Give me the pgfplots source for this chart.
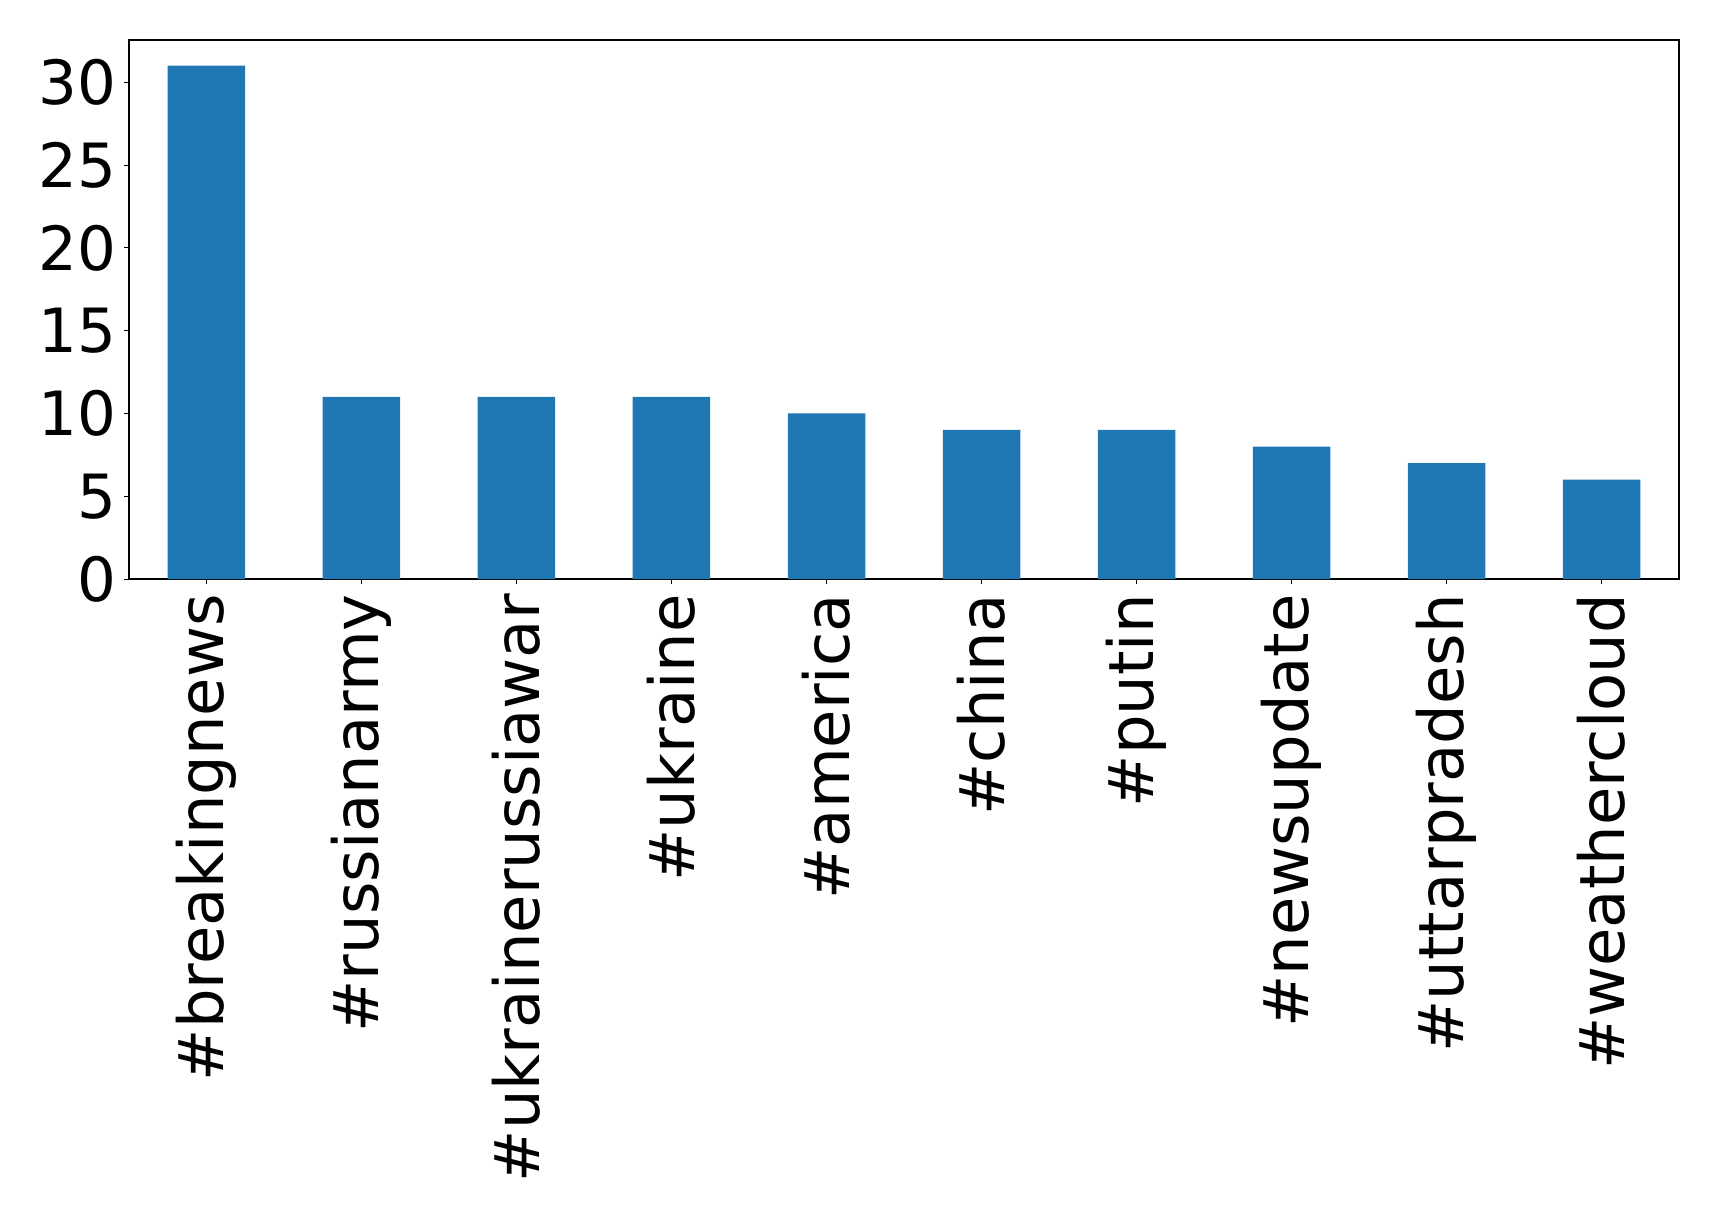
\documentclass[border=0pt]{standalone}
\usepackage{pgfplots}
\pgfplotsset{compat=1.18}
\usepackage{fontspec}
\setmainfont{DejaVu Sans}
\definecolor{mplblue}{HTML}{1F77B4}
\begin{document}
\begin{tikzpicture}
\begin{axis}[
  at={(0,0)}, anchor=south west,
  scale only axis=true,
  width=775pt, height=269.5pt,
  xmin=-0.5, xmax=9.5,
  ymin=0, ymax=32.55,
  ytick={0,5,10,15,20,25,30},
  xtick={0,1,2,3,4,5,6,7,8,9},
  xticklabels={\#breakingnews,\#russianarmy,\#ukrainerussiawar,\#ukraine,\#america,\#china,\#putin,\#newsupdate,\#uttarpradesh,\#weathercloud},
  /pgf/number format/assume math mode=true,
  tick align=outside,
  major tick length=2.4pt,
  tick style={black, line width=0.5pt},
  axis line style={black, line width=0.6pt},
  ticklabel style={font=\fontsize{31.2}{37}\selectfont},
  yticklabel style={anchor=east, inner sep=0pt, font=\fontsize{30.5}{37}\selectfont},
  yticklabel shift=3.6pt,
  xticklabel style={rotate=90, anchor=east, inner sep=0pt},
  xticklabel shift=5pt,
  xtick pos=bottom, ytick pos=left,
]
\addplot[ybar, bar width=0.5, fill=mplblue, draw=none] coordinates {
(0,31) (1,11) (2,11) (3,11) (4,10) (5,9) (6,9) (7,8) (8,7) (9,6)
};
\end{axis}
\pgfresetboundingbox
\path[use as bounding box] (-64.5pt,-319pt) rectangle (795pt,289.5pt);
\end{tikzpicture}
\end{document}
